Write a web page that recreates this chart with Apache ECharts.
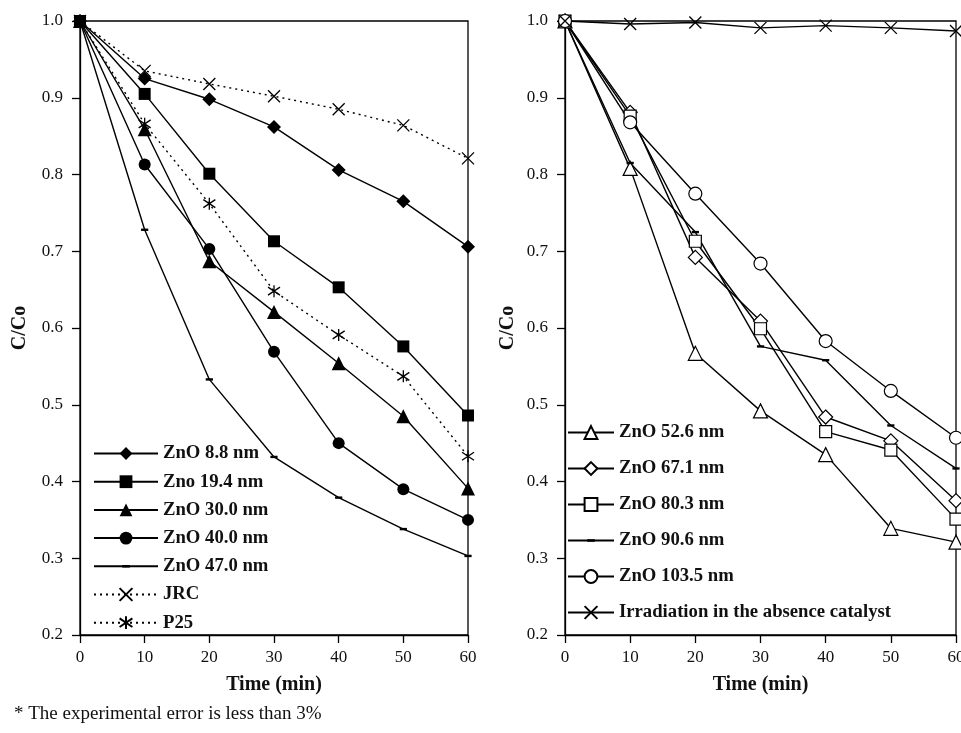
<!DOCTYPE html>
<html><head><meta charset="utf-8">
<script src="https://cdn.jsdelivr.net/npm/echarts@6/dist/echarts.min.js"></script>
<style>html,body{margin:0;padding:0;background:#fff}#c{width:961px;height:733px}</style>
</head><body><div id="c"></div>
<script>
// Shared time axis (min)
const times = [0, 10, 20, 30, 40, 50, 60];
const xTicks = [0, 10, 20, 30, 40, 50, 60];
const yTicks = [0.2, 0.3, 0.4, 0.5, 0.6, 0.7, 0.8, 0.9, 1.0];

// Left panel
const leftNames = ['ZnO 8.8 nm', 'Zno 19.4 nm', 'ZnO 30.0 nm', 'ZnO 40.0 nm', 'ZnO 47.0 nm', 'JRC', 'P25'];
const zno8_8   = [1.0, 0.925, 0.898, 0.862, 0.806, 0.765, 0.706];
const zno19_4  = [1.0, 0.905, 0.801, 0.713, 0.653, 0.576, 0.486];
const zno30_0  = [1.0, 0.859, 0.687, 0.621, 0.554, 0.485, 0.391];
const zno40_0  = [1.0, 0.813, 0.703, 0.569, 0.450, 0.390, 0.350];
const zno47_0  = [1.0, 0.728, 0.533, 0.432, 0.379, 0.338, 0.303];
const jrc      = [1.0, 0.935, 0.918, 0.902, 0.885, 0.864, 0.821];
const p25      = [1.0, 0.866, 0.762, 0.648, 0.591, 0.537, 0.433];

// Right panel
const rightNames = ['ZnO 52.6 nm', 'ZnO 67.1 nm', 'ZnO 80.3 nm', 'ZnO 90.6 nm', 'ZnO 103.5 nm', 'Irradiation in the absence catalyst'];
const zno52_6  = [1.0, 0.808, 0.567, 0.492, 0.435, 0.339, 0.321];
const zno67_1  = [1.0, 0.881, 0.692, 0.609, 0.484, 0.453, 0.375];
const zno80_3  = [1.0, 0.876, 0.713, 0.599, 0.465, 0.441, 0.351];
const zno90_6  = [1.0, 0.815, 0.725, 0.576, 0.558, 0.473, 0.417];
const zno103_5 = [1.0, 0.868, 0.775, 0.684, 0.583, 0.518, 0.457];
const noCat    = [1.0, 0.996, 0.998, 0.991, 0.994, 0.991, 0.987];

const pts = arr => times.map((t, i) => [t, arr[i]]);
const SERIF = '"Liberation Serif","Times New Roman",serif';
const crossPath = 'path://M0,0L10,10M10,0L0,10';
const starPath = 'path://M0,1L10,9M10,1L0,9M5,-1L5,11';
const dashPath = 'path://M0,0M10,10M2,4L8,4L8,6L2,6Z';

function ser(name, data, idx, symbol, size, opts) {
  opts = opts || {};
  return {
    name, type: 'line', xAxisIndex: idx, yAxisIndex: idx,
    data: pts(data), symbol, symbolSize: size, clip: false, animation: false,
    showAllSymbol: true,
    lineStyle: { color: '#000', width: 1.4, type: opts.dash || 'solid' },
    itemStyle: { color: opts.fill || '#000', borderColor: '#000', borderWidth: opts.bw || 0 },
    z: 3
  };
}

const axisCommon = {
  axisLine: { show: true, onZero: false, lineStyle: { color: '#000', width: 1.3 } },
  axisTick: { show: true, inside: false, length: 8, lineStyle: { color: '#000', width: 1.3 } },
  splitLine: { show: false },
  axisLabel: { color: '#111', fontFamily: SERIF, fontSize: 17 }
};

function xAx(idx) {
  return Object.assign({}, axisCommon, {
    gridIndex: idx, type: 'value', min: xTicks[0], max: xTicks[xTicks.length - 1], interval: 10,
    name: 'Time (min)', nameLocation: 'middle', nameGap: 40,
    nameTextStyle: { fontFamily: SERIF, fontSize: 20, fontWeight: 'bold', color: '#111' },
    axisLabel: Object.assign({}, axisCommon.axisLabel, { margin: 14 })
  });
}
function yAx(idx, gap) {
  return Object.assign({}, axisCommon, {
    gridIndex: idx, type: 'value', min: yTicks[0], max: yTicks[yTicks.length - 1], interval: 0.1,
    name: 'C/Co', nameLocation: 'middle', nameGap: gap,
    nameTextStyle: { fontFamily: SERIF, fontSize: 20, fontWeight: 'bold', color: '#111' },
    axisLabel: Object.assign({}, axisCommon.axisLabel, { margin: 17, formatter: v => v.toFixed(1) })
  });
}

const chart = echarts.init(document.getElementById('c'), null, { renderer: 'canvas' });
chart.setOption({
  animation: false,
  backgroundColor: '#fff',
  title: {
    text: '* The experimental error is less than 3%', left: 9, top: 700,
    textStyle: { fontFamily: SERIF, fontSize: 19, fontWeight: 'normal', color: '#111' }
  },
  grid: [
    { left: 80, top: 21, width: 388, height: 614, show: true, borderColor: '#000', borderWidth: 1.3, backgroundColor: 'transparent', outerBoundsMode: 'none', containLabel: false },
    { left: 565, top: 21, width: 391, height: 614, show: true, borderColor: '#000', borderWidth: 1.3, backgroundColor: 'transparent', outerBoundsMode: 'none', containLabel: false }
  ],
  xAxis: [xAx(0), xAx(1)],
  yAxis: [yAx(0, 50), yAx(1, 47)],
  legend: [
    {
      data: leftNames, orient: 'vertical', left: 93, top: 444, padding: 0,
      itemWidth: 64, itemHeight: 16, itemGap: 9.2,
      textStyle: { fontFamily: SERIF, fontSize: 18.7, fontWeight: 'bold', color: '#111' }
    },
    {
      data: rightNames, orient: 'vertical', left: 567, top: 423, padding: 0,
      itemWidth: 46, itemHeight: 16, itemGap: 17,
      textStyle: { fontFamily: SERIF, fontSize: 18.7, fontWeight: 'bold', color: '#111' }
    }
  ],
  series: [
    ser(leftNames[0], zno8_8, 0, 'diamond', 14),
    ser(leftNames[1], zno19_4, 0, 'rect', 12),
    ser(leftNames[2], zno30_0, 0, 'triangle', 14),
    ser(leftNames[3], zno40_0, 0, 'circle', 12),
    ser(leftNames[4], zno47_0, 0, dashPath, 12),
    ser(leftNames[5], jrc, 0, crossPath, 12, { dash: [2, 4], fill: 'none', bw: 1.3 }),
    ser(leftNames[6], p25, 0, starPath, 12, { dash: [2, 4], fill: 'none', bw: 1.3 }),
    ser(rightNames[0], zno52_6, 1, 'triangle', 14, { fill: '#fff', bw: 1.2 }),
    ser(rightNames[1], zno67_1, 1, 'diamond', 14, { fill: '#fff', bw: 1.2 }),
    ser(rightNames[2], zno80_3, 1, 'rect', 12, { fill: '#fff', bw: 1.2 }),
    ser(rightNames[3], zno90_6, 1, dashPath, 12),
    ser(rightNames[4], zno103_5, 1, 'circle', 13, { fill: '#fff', bw: 1.2 }),
    ser(rightNames[5], noCat, 1, crossPath, 12, { fill: 'none', bw: 1.3 })
  ]
});
</script>
</body></html>
